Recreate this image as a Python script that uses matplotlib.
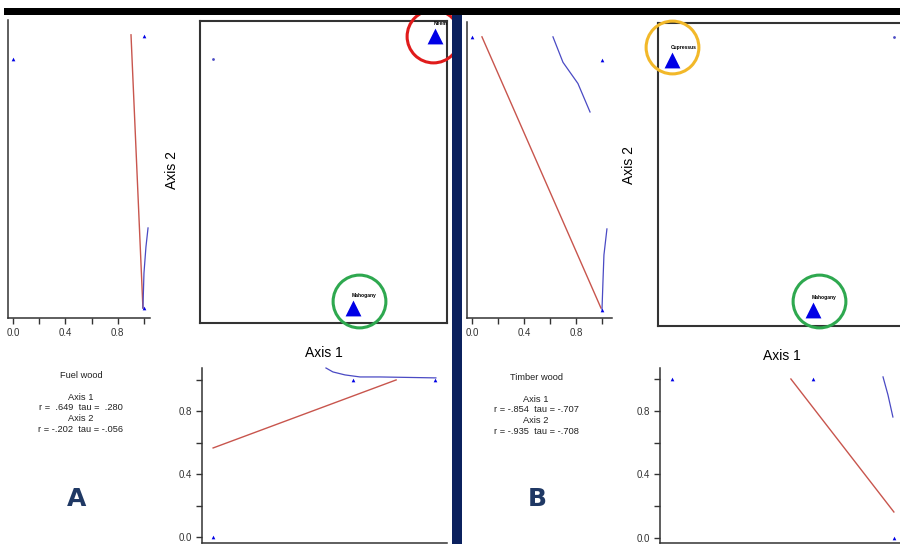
import matplotlib
matplotlib.use('Agg')
import matplotlib.pyplot as plt
from matplotlib.patches import Rectangle
from matplotlib.transforms import offset_copy

plt.rcParams['font.family'] = ['Liberation Sans', 'DejaVu Sans']

W, H = 900, 544

# ---- panel A: fuel wood ----
a_axis1 = [0.053, 0.951, 0.619]        # site scores on Axis 1
a_axis2 = [0.874, 0.950, 0.050]        # site scores on Axis 2
fuel_wood = [0.0, 1.0, 1.0]
a_site_names = ['', 'Neem', 'Mahogany']

# fitted lines / smoothers
a_left_red_x = [0.901, 0.992]
a_left_red_y = [0.954, 0.050]
a_left_blue_x = [0.992, 1.0, 1.015, 1.031]
a_left_blue_y = [0.050, 0.166, 0.252, 0.315]
a_bot_red_x = [0.053, 0.794]
a_bot_red_y = [0.567, 1.0]
a_bot_blue_x = [0.510, 0.538, 0.587, 0.648, 0.729, 0.955]
a_bot_blue_y = [1.076, 1.051, 1.032, 1.019, 1.019, 1.013]
a_stats = 'Fuel wood\n\nAxis 1\nr =  .649  tau =  .280\nAxis 2\nr = -.202  tau = -.056'

# ---- panel B: timber wood ----
b_axis1 = [0.955, 0.057, 0.628]
b_axis2 = [0.954, 0.878, 0.053]
timber_wood = [0.0, 1.0, 1.0]
b_site_names = ['', 'Cupressus', 'Mahogany']

b_left_red_x = [0.077, 0.992]
b_left_red_y = [0.954, 0.059]
b_left_blue1_x = [0.623, 0.700, 0.815, 0.908]
b_left_blue1_y = [0.954, 0.870, 0.800, 0.706]
b_left_blue2_x = [1.0, 1.008, 1.015, 1.038]
b_left_blue2_y = [0.053, 0.152, 0.234, 0.320]
b_bot_red_x = [0.538, 0.955]
b_bot_red_y = [1.0, 0.164]
b_bot_blue_x = [0.911, 0.931, 0.951]
b_bot_blue_y = [1.013, 0.900, 0.761]
b_stats = 'Timber wood\n\nAxis 1\nr = -.854  tau = -.707\nAxis 2\nr = -.935  tau = -.708'

RED = '#c8554d'
BLUE = '#4a4ac4'
MARK = '#0000e6'
SPINE = '#333333'
NAVY = '#1f3864'

fig = plt.figure(figsize=(W / 100, H / 100), dpi=100)
fig.patch.set_facecolor('white')


def px_axes(x0, y0, x1, y1):
    return fig.add_axes([x0 / W, 1 - y1 / H, (x1 - x0) / W, (y1 - y0) / H])


def px_rect(x0, y0, x1, y1, color):
    fig.add_artist(Rectangle((x0 / W, 1 - y1 / H), (x1 - x0) / W, (y1 - y0) / H,
                             transform=fig.transFigure, color=color, lw=0, zorder=5))


def style_open(ax, axis):
    for s in ['top', 'right']:
        ax.spines[s].set_visible(False)
    for s in ['left', 'bottom']:
        ax.spines[s].set_color(SPINE)
        ax.spines[s].set_linewidth(1.1)
    ax.set_facecolor('none')
    major, minor = [0.0, 0.4, 0.8], [0.2, 0.6, 1.0]
    labels = [f'{t:.1f}' for t in major]
    if axis == 'x':
        ax.set_yticks([])
        ax.set_xticks(major, labels)
        ax.set_xticks(minor, minor=True)
    else:
        ax.set_xticks([])
        ax.set_yticks(major, labels)
        ax.set_yticks(minor, minor=True)
    ax.tick_params(which='both', length=4, width=1, color=SPINE,
                   labelsize=7, labelcolor='#333333', pad=3)


def small_marks(ax, x, y):
    ax.scatter(x, y, marker='^', s=7, color=MARK, zorder=4, clip_on=False, lw=0)


def overlay(ax, x1, x2, values, names):
    # symbol size follows the variable value (zero -> tiny dot)
    for xi, yi, v, nm in zip(x1, x2, values, names):
        if v == 0:
            ax.scatter([xi], [yi], marker='o', s=4, color=BLUE, lw=0, zorder=4)
        else:
            ax.scatter([xi], [yi], marker='^', s=130 * v, color=MARK, lw=0,
                       zorder=4, clip_on=False)
        if nm:
            ax.annotate(nm, (xi, yi), xytext=(-1, 8), textcoords='offset points',
                        fontsize=3.6, fontweight='bold', color='black', zorder=5)
    ax.set_xlim(0, 1)
    ax.set_ylim(0, 1)
    ax.set_xticks([])
    ax.set_yticks([])
    for s in ax.spines.values():
        s.set_color(SPINE)
        s.set_linewidth(1.5)


def ring(ax, x, y, color, dx, dy):
    tr = offset_copy(ax.transData, fig=fig, x=dx, y=dy, units='dots')
    ax.plot([x], [y], marker='o', ms=38, mfc='none', mec=color, mew=2.2,
            transform=tr, clip_on=False, zorder=6)


# ----- panel A -----
ax = px_axes(8, 20, 150, 318)
style_open(ax, 'x')
ax.set_xlim(-0.038, 1.046)
ax.set_ylim(0.017, 1.003)
ax.plot(a_left_red_x, a_left_red_y, color=RED, lw=1.0)
ax.plot(a_left_blue_x, a_left_blue_y, color=BLUE, lw=0.9)
small_marks(ax, fuel_wood, a_axis2)

ax = px_axes(200, 21, 447, 323)
overlay(ax, a_axis1, a_axis2, fuel_wood, a_site_names)
ring(ax, a_axis1[1], a_axis2[1], '#e01b1b', -2, 0)
ring(ax, a_axis1[2], a_axis2[2], '#2ea84f', 6, 7)
ax.text(0.5, -0.075, 'Axis 1', transform=ax.transAxes, ha='center', va='top',
        fontsize=10)
fig.text(172 / W, 1 - 170 / H, 'Axis 2', rotation=90, ha='center', va='center',
         fontsize=10)

ax = px_axes(202, 368, 447, 543)
style_open(ax, 'y')
ax.set_xlim(0.008, 1.0)
ax.set_ylim(-0.038, 1.076)
ax.plot(a_bot_red_x, a_bot_red_y, color=RED, lw=1.0)
ax.plot(a_bot_blue_x, a_bot_blue_y, color=BLUE, lw=0.9, clip_on=False)
small_marks(ax, a_axis1, fuel_wood)

fig.text(81 / W, 1 - 371 / H, a_stats, ha='center', va='top', fontsize=6.7,
         color='#222222', linespacing=1.25)
fig.text(77 / W, 1 - 499 / H, 'A', ha='center', va='center', fontsize=18,
         fontweight='bold', color=NAVY, family=['Liberation Sans Narrow', 'DejaVu Sans'])

# ----- panel B -----
ax = px_axes(467, 22, 612, 318)
style_open(ax, 'x')
ax.set_xlim(-0.038, 1.077)
ax.set_ylim(0.026, 1.003)
ax.plot(b_left_red_x, b_left_red_y, color=RED, lw=1.0)
ax.plot(b_left_blue1_x, b_left_blue1_y, color=BLUE, lw=0.9)
ax.plot(b_left_blue2_x, b_left_blue2_y, color=BLUE, lw=0.9, clip_on=False)
small_marks(ax, timber_wood, b_axis2)

ax = px_axes(658, 23, 905, 326)
overlay(ax, b_axis1, b_axis2, timber_wood, b_site_names)
ring(ax, b_axis1[1], b_axis2[1], '#f2b829', 0, 13)
ring(ax, b_axis1[2], b_axis2[2], '#2ea84f', 6, 9)
ax.text(0.5, -0.075, 'Axis 1', transform=ax.transAxes, ha='center', va='top',
        fontsize=10)
fig.text(629 / W, 1 - 165 / H, 'Axis 2', rotation=90, ha='center', va='center',
         fontsize=10)

ax = px_axes(660, 368, 905, 543)
style_open(ax, 'y')
ax.set_xlim(0.008, 1.0)
ax.set_ylim(-0.031, 1.069)
ax.plot(b_bot_red_x, b_bot_red_y, color=RED, lw=1.0)
ax.plot(b_bot_blue_x, b_bot_blue_y, color=BLUE, lw=0.9, clip_on=False)
small_marks(ax, b_axis1, timber_wood)

fig.text(536 / W, 1 - 373 / H, b_stats, ha='center', va='top', fontsize=6.7,
         color='#222222', linespacing=1.25)
fig.text(537 / W, 1 - 499 / H, 'B', ha='center', va='center', fontsize=18,
         fontweight='bold', color=NAVY, family=['Liberation Sans Narrow', 'DejaVu Sans'])

# header bar and panel divider
px_rect(4, 8, 900, 15, 'black')
px_rect(452, 15, 462, 544, '#0b215e')

fig.savefig('out.png', dpi=100, facecolor='white')
